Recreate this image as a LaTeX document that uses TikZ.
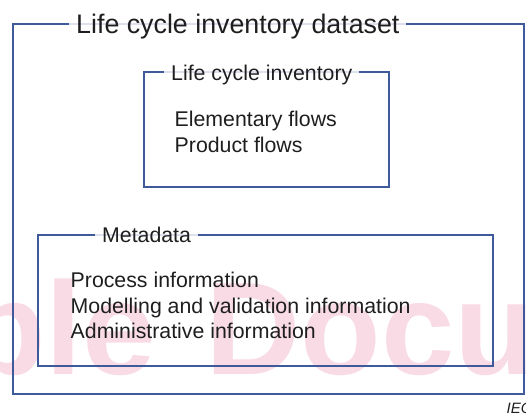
\documentclass[tikz,border=0pt]{standalone}
\usepackage{fontspec}
\setmainfont{Liberation Sans}
\definecolor{framecol}{RGB}{62,90,155}
\definecolor{inkcol}{RGB}{30,30,30}
\definecolor{markcol}{RGB}{249,219,229}
\tikzset{
  panel/.style 2 args={draw=framecol, line width=1.7pt, inner sep=0pt, outer sep=0pt,
    anchor=north west, minimum width=#1, minimum height=#2},
  heading/.style={fill=white, fill opacity=0.82, text opacity=1, text=inkcol,
    inner xsep=7pt, inner ysep=1pt, anchor=base west},
  entry/.style={text=inkcol, inner sep=0pt, anchor=base west,
    font=\fontsize{21.3}{25}\selectfont},
  stamp/.style={text=markcol, inner sep=0pt, anchor=base west,
    font=\fontsize{132}{132}\bfseries\selectfont}
}
\begin{document}
\begin{tikzpicture}[x=1pt,y=-1pt]
\useasboundingbox (0,0) rectangle (526,413);
\clip (0,0) rectangle (526,413);

% watermark behind everything
\node[stamp] (wmA) at (-35,374) {ple};
\node[stamp] (wmB) at (205,374) {Docu};

% frames
\node[panel={511pt}{370pt}] (dataset) at (13,24) {};
\node[panel={245pt}{115pt}] (lci) at (144,72) {};
\node[panel={455pt}{131pt}] (meta) at (38,235) {};

% frame headings
\node[heading, font=\fontsize{26.8}{30}\selectfont] (tDataset) at (69,33) {Life cycle inventory dataset};
\node[heading, font=\fontsize{21.3}{25}\selectfont] (tLci) at (164,80) {Life cycle inventory};
\node[heading, font=\fontsize{21.3}{25}\selectfont] (tMeta) at (95,242) {Metadata};

% contents
\node[entry] (eFlows) at (174.5,126) {Elementary flows};
\node[entry] (pFlows) at (174.5,152) {Product flows};
\node[entry] (mProc) at (70.5,287) {Process information};
\node[entry] (mModel) at (70.5,313) {Modelling and validation information};
\node[entry] (mAdmin) at (70.5,338) {Administrative information};

% source tag
\node[text=inkcol, inner sep=0pt, anchor=base west, font=\fontsize{15}{17}\itshape\selectfont] (src) at (506.5,413.5) {IEC};
\end{tikzpicture}
\end{document}
